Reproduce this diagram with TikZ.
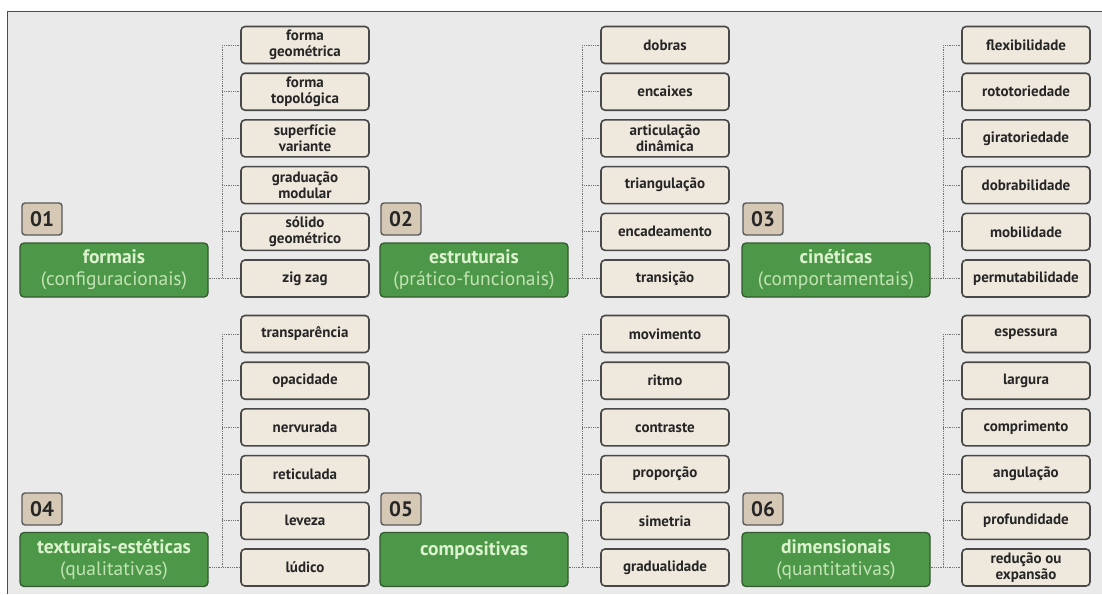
\documentclass[tikz,border=0pt]{standalone}
\usepackage{fontspec}
\setmainfont{PT Sans}
\usepackage{tikz}
\usetikzlibrary{positioning,calc}

\definecolor{fundo}{HTML}{EAEAEA}
\definecolor{verde}{HTML}{4D9848}
\definecolor{verdeborda}{HTML}{34582F}
\definecolor{verdeclaro}{HTML}{DCF2CF}
\definecolor{verdesub}{HTML}{C2E3B4}
\definecolor{bege}{HTML}{EEE8DD}
\definecolor{begeescuro}{HTML}{D5C8B4}
\definecolor{contorno}{HTML}{484848}

\tikzset{
  item/.style={draw=contorno, line width=1.6pt, fill=bege, rounded corners=4pt,
    minimum width=128pt, minimum height=37pt, align=center, text=black!85,
    font=\fontsize{15}{16}\selectfont\bfseries, inner sep=1pt},
  grupo/.style={draw=verdeborda, line width=1.3pt, fill=verde, rounded corners=4pt,
    minimum width=188pt, minimum height=54pt, align=center, inner sep=1pt,
    font=\fontsize{19.5}{22}\selectfont},
  numero/.style={draw=black!65, line width=1.4pt, fill=begeescuro, rounded corners=3pt,
    minimum width=40pt, minimum height=32pt, inner sep=0pt,
    font=\fontsize{21}{21}\selectfont\bfseries, text=black!85},
  ligacao/.style={densely dotted, draw=black!55, line width=0.8pt}
}
\newcommand{\titulo}[1]{{\color{verdeclaro}\bfseries #1}}
\newcommand{\subtitulo}[1]{{\color{verdesub}#1}}

\begin{document}
\begin{tikzpicture}[x=1pt,y=-1pt]
  \useasboundingbox (0,0) rectangle (1102,594);
  \fill[white] (0,0) rectangle (1102,594);
  \fill[fundo] (7.5,11.5) rectangle (1102,594);
  \draw[black!70, line width=1.5pt] (7.5,594) -- (7.5,11.5) -- (1102,11.5);

  % 01
  \node[numero] (n1) at (42,219) {01};
  \node[grupo] (g1) at (114,270) {\titulo{formais}\\\subtitulo{(configuracionais)}};
  \foreach \t [count=\k] in {{forma\\geométrica},{forma\\topológica},{superfície\\variante},
      {graduação\\modular},{sólido\\geométrico},{zig zag}}
    \node[item] (i1-\k) at (305,{45+(\k-1)*46.7}) {\t};

  % 02
  \node[numero] (n2) at (401,219) {02};
  \node[grupo] (g2) at (474,270) {\titulo{estruturais}\\\subtitulo{(prático-funcionais)}};
  \foreach \t [count=\k] in {dobras,encaixes,{articulação\\dinâmica},triangulação,
      encadeamento,transição}
    \node[item] (i2-\k) at (665,{45+(\k-1)*46.7}) {\t};

  % 03
  \node[numero] (n3) at (763,219) {03};
  \node[grupo] (g3) at (836,270) {\titulo{cinéticas}\\\subtitulo{(comportamentais)}};
  \foreach \t [count=\k] in {flexibilidade,rototoriedade,giratoriedade,dobrabilidade,
      mobilidade,permutabilidade}
    \node[item] (i3-\k) at (1026,{45+(\k-1)*46.7}) {\t};

  % 04
  \node[numero] (n4) at (42,509) {04};
  \node[grupo] (g4) at (114,559.5) {\titulo{texturais-estéticas}\\\subtitulo{(qualitativas)}};
  \foreach \t [count=\k] in {transparência,opacidade,nervurada,reticulada,leveza,lúdico}
    \node[item] (i4-\k) at (305,{334+(\k-1)*46.7}) {\t};

  % 05
  \node[numero] (n5) at (401,509) {05};
  \node[grupo] (g5) at (474,559.5) {\titulo{compositivas}\\\mbox{}};
  \foreach \t [count=\k] in {movimento,ritmo,contraste,proporção,simetria,gradualidade}
    \node[item] (i5-\k) at (665,{334+(\k-1)*46.7}) {\t};

  % 06
  \node[numero] (n6) at (763,509) {06};
  \node[grupo] (g6) at (836,559.5) {\titulo{dimensionais}\\\subtitulo{(quantitativas)}};
  \foreach \t [count=\k] in {espessura,largura,comprimento,angulação,profundidade,
      {redução ou\\expansão}}
    \node[item] (i6-\k) at (1026,{334+(\k-1)*46.7}) {\t};

  % ligacoes pontilhadas
  \foreach \p in {1,...,6}{
    \draw[ligacao] ([xshift=-18pt]i\p-1.west) -- ([xshift=-18pt]i\p-6.west);
    \foreach \k in {1,...,5}
      \draw[ligacao] ([xshift=-18pt]i\p-\k.west) -- (i\p-\k.west);
    \draw[ligacao] (g\p.east |- i\p-6.west) -- (i\p-6.west);
  }
\end{tikzpicture}
\end{document}
